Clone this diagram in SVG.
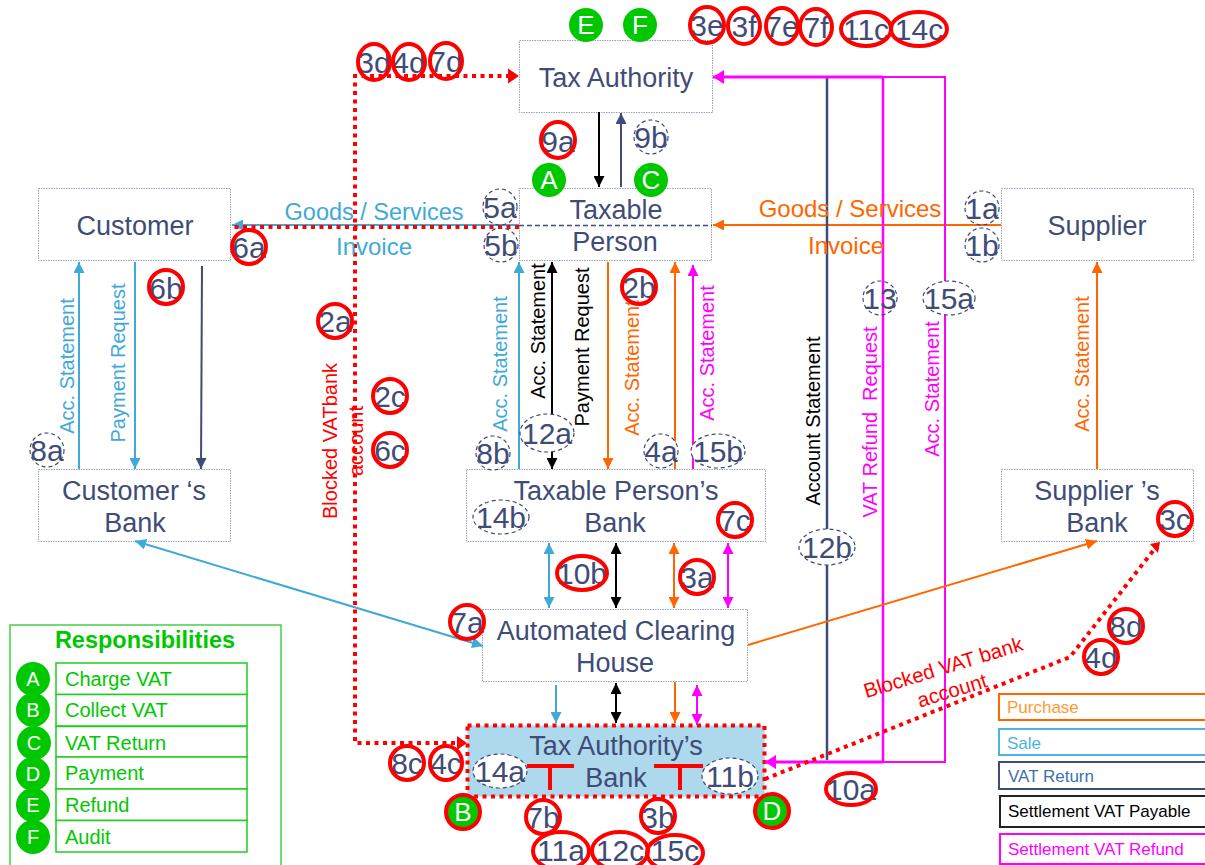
<svg xmlns="http://www.w3.org/2000/svg" width="1205" height="865" viewBox="0 0 1205 865">
<style>
text{font-family:"Liberation Sans",Arial,sans-serif;text-anchor:middle;dominant-baseline:central}
.box{fill:#fff;stroke:#9aa2bb;stroke-width:1;stroke-dasharray:1.5 1}
.nt{font-size:27px;fill:#3f4c77}
.bt{font-size:30px;fill:#3f4c77}
.r{fill:none;stroke:#f00;stroke-width:4}
.d{fill:#fff;stroke:#3f4c77;stroke-width:1.2;stroke-dasharray:4 3}
.o{fill:none}
.g{fill:#00c800}
.gt{font-size:26px;fill:#fff}
.l{fill:none;stroke-width:2}
.lb{stroke:#3fa9d8}.lo{stroke:#ff6600}.ln{stroke:#3f4c77}.lk{stroke:#000}.lm{stroke:#ff00ff}
.rd{fill:none;stroke:#f00;stroke-width:4;stroke-dasharray:4 4.500}
.tb{fill:#3fa9d8}.to{fill:#ff6600}.tk{fill:#000}.tm{fill:#ff00ff}.tr{fill:#f00}
.v{font-size:20px}
.h{font-size:24px}
.rb{fill:#fff;stroke:#22cc22;stroke-width:1.500}
.rt{font-size:20px;fill:#00c800;text-anchor:start}
.lg{fill:#fff;stroke-width:2}
.lt{font-size:17px;text-anchor:start}
</style>
<defs>
<marker id="ab" viewBox="0 0 10 10" refX="10" refY="5" markerWidth="11" markerHeight="11" markerUnits="userSpaceOnUse" orient="auto-start-reverse"><path d="M0,0L10,5L0,10z" fill="#3fa9d8"/></marker>
<marker id="ao" viewBox="0 0 10 10" refX="10" refY="5" markerWidth="11" markerHeight="11" markerUnits="userSpaceOnUse" orient="auto-start-reverse"><path d="M0,0L10,5L0,10z" fill="#ff6600"/></marker>
<marker id="an" viewBox="0 0 10 10" refX="10" refY="5" markerWidth="11" markerHeight="11" markerUnits="userSpaceOnUse" orient="auto-start-reverse"><path d="M0,0L10,5L0,10z" fill="#3f4c77"/></marker>
<marker id="ak" viewBox="0 0 10 10" refX="10" refY="5" markerWidth="11" markerHeight="11" markerUnits="userSpaceOnUse" orient="auto-start-reverse"><path d="M0,0L10,5L0,10z" fill="#000"/></marker>
<marker id="am" viewBox="0 0 10 10" refX="10" refY="5" markerWidth="11" markerHeight="11" markerUnits="userSpaceOnUse" orient="auto-start-reverse"><path d="M0,0L10,5L0,10z" fill="#ff00ff"/></marker>
</defs>

<g id="node-tax-authority"><rect class="box" x="519.5" y="40.5" width="193" height="72"/><text class="nt" x="616" y="78">Tax Authority</text></g>
<g id="node-customer"><rect class="box" x="38.5" y="188.5" width="192" height="72"/><text class="nt" x="135" y="226">Customer</text></g>
<g id="node-taxable-person"><rect class="box" x="519.5" y="188.5" width="192" height="72"/><text class="nt" x="616" y="210">Taxable</text><text class="nt" x="615" y="242">Person</text></g>
<g id="node-supplier"><rect class="box" x="1001.5" y="188.5" width="192" height="72"/><text class="nt" x="1097" y="226">Supplier</text></g>
<g id="node-customer-bank"><rect class="box" x="38.5" y="469.5" width="192" height="72"/><text class="nt" x="134" y="491">Customer ‘s</text><text class="nt" x="135" y="523">Bank</text></g>
<g id="node-tp-bank"><rect class="box" x="466.5" y="469.5" width="299" height="72"/><text class="nt" x="616" y="491">Taxable Person’s</text><text class="nt" x="615" y="523">Bank</text></g>
<g id="node-supplier-bank"><rect class="box" x="1001.5" y="469.5" width="192" height="72"/><text class="nt" x="1097" y="491">Supplier ’s</text><text class="nt" x="1097" y="523">Bank</text></g>
<g id="node-ach"><rect class="box" x="482.5" y="609.5" width="265" height="72"/><text class="nt" x="616" y="631">Automated Clearing</text><text class="nt" x="615" y="663">House</text></g>
<g id="node-ta-bank"><rect x="467.5" y="725.5" width="297" height="71" fill="#aed8ec" stroke="#f00" stroke-width="4" stroke-dasharray="4 4.500"/><text class="nt" x="616" y="746">Tax Authority’s</text><text class="nt" x="616" y="778">Bank</text>
<path d="M527,766H574M550,766V790M654,766H703M680,766V790" fill="none" stroke="#f00" stroke-width="4"/></g>

<g id="connectors">
<path class="l lk" d="M599,112V187" marker-end="url(#ak)"/>
<path class="l ln" d="M621,187V113" marker-end="url(#an)"/>
<path class="l lb" d="M519,225H232" marker-end="url(#ab)"/>
<path d="M519,225.5H712" fill="none" stroke="#3f4c77" stroke-width="1.300" stroke-dasharray="5 3"/>
<path class="l lo" d="M1001,225H713" marker-end="url(#ao)"/>
<path class="rd" d="M519,227H232"/>
<path class="rd" d="M510,76H355V743H457"/>
<path d="M508,68.500L519,76L508,83.500z" fill="#f00"/><path d="M457,736L467,743L457,750z" fill="#f00"/>
<path class="l lb" d="M79,469V262" marker-end="url(#ab)"/>
<path class="l lb" d="M135,262V469" marker-end="url(#ab)"/>
<path class="l ln" d="M202,266L201,469" marker-end="url(#an)"/>
<path class="l lb" d="M519,469V262" marker-end="url(#ab)"/>
<path class="l lk" d="M552,262V469" marker-start="url(#ak)" marker-end="url(#ak)"/>
<path class="l lo" d="M608,262V469" marker-end="url(#ao)"/>
<path class="l lo" d="M675,469V262" marker-end="url(#ao)"/>
<path class="l lm" d="M693,469V265" marker-end="url(#am)"/>
<path class="l lo" d="M1097,469V262" marker-end="url(#ao)"/>
<path class="l lb" d="M549,543V608" marker-start="url(#ab)" marker-end="url(#ab)"/>
<path class="l lk" d="M616,543V608" marker-start="url(#ak)" marker-end="url(#ak)"/>
<path class="l lo" d="M674,543V608" marker-start="url(#ao)" marker-end="url(#ao)"/>
<path class="l lm" d="M728,543V608" marker-start="url(#am)" marker-end="url(#am)"/>
<path class="l lb" d="M556,685V723" marker-end="url(#ab)"/>
<path class="l lk" d="M616,683V723" marker-start="url(#ak)" marker-end="url(#ak)"/>
<path class="l lo" d="M675,682V723" marker-end="url(#ao)"/>
<path class="l lm" d="M697,685V725" marker-start="url(#am)" marker-end="url(#am)"/>
<path class="l lb" d="M135,541L483,646" marker-start="url(#ab)" marker-end="url(#ab)"/>
<path d="M827,77V760" fill="none" stroke="#3f4c77" stroke-width="2.500"/>
<path class="l lm" d="M883,77V762" style="stroke-width:2.500"/>
<path class="l lm" d="M713,77H945V762H765"/>
<path d="M713,77H883M765,762H883" fill="none" stroke="#ff00ff" stroke-width="3"/>
<path d="M724,70L713,77L724,84zM776,755L765,762L776,769z" fill="#ff00ff"/>
<path class="l lo" d="M748,645L1097,541" marker-end="url(#ao)"/>
<path class="rd" d="M765,779L1070,657L1153,551"/>
<path d="M1150,544L1160,542L1158,553z" fill="#f00" transform="rotate(0)"/>
</g>

<g id="labels">
<text class="tb" style="font-size:23.500px" x="374" y="212">Goods / Services</text>
<text class="h tb" x="374" y="246">Invoice</text>
<text class="h to" x="850" y="208">Goods / Services</text>
<text class="h to" x="846" y="245">Invoice</text>
<text class="v tb" transform="translate(67,366) rotate(-90)">Acc. Statement</text>
<text class="v tb" transform="translate(118,363) rotate(-90)">Payment Request</text>
<text class="v tb" transform="translate(500,364) rotate(-90)">Acc. Statement</text>
<text class="v tk" transform="translate(538,331) rotate(-90)">Acc. Statement</text>
<text class="v tk" transform="translate(582,347) rotate(-90)">Payment Request</text>
<text class="v to" transform="translate(632,368) rotate(-90)">Acc. Statement</text>
<text class="v tm" transform="translate(707,353) rotate(-90)">Acc. Statement</text>
<text class="v to" transform="translate(1082,364) rotate(-90)">Acc. Statement</text>
<text class="v tk" transform="translate(813,421) rotate(-90)">Account Statement</text>
<text class="v tm" transform="translate(870,422) rotate(-90)" xml:space="preserve">VAT Refund  Request</text>
<text class="v tm" transform="translate(932,389) rotate(-90)">Acc. Statement</text>
<text class="v tr" transform="translate(330,441) rotate(-90)">Blocked VATbank</text>
<text class="v tr" transform="translate(356,441) rotate(-90)">account</text>
<text class="tr" style="font-size:20.500px" transform="translate(943,667) rotate(-17)">Blocked VAT bank</text>
<text class="tr" style="font-size:20.500px" transform="translate(952,690) rotate(-17)">account</text>
</g>

<g id="badge-9b"><ellipse class="d" cx="651" cy="137" rx="17" ry="17"/><text class="bt" x="651" y="137">9b</text></g>
<g id="badge-5a"><ellipse class="d o" cx="500" cy="207" rx="17" ry="18"/><text class="bt" x="500" y="207">5a</text></g>
<g id="badge-5b"><ellipse class="d o" cx="501" cy="245" rx="17" ry="17"/><text class="bt" x="501" y="245">5b</text></g>
<g id="badge-1a"><ellipse class="d o" cx="982" cy="208" rx="17" ry="17"/><text class="bt" x="982" y="208">1a</text></g>
<g id="badge-1b"><ellipse class="d o" cx="982" cy="245" rx="17" ry="17"/><text class="bt" x="982" y="245">1b</text></g>
<g id="badge-13"><ellipse class="d o" cx="880" cy="298" rx="17" ry="17"/><text class="bt" x="880" y="298">13</text></g>
<g id="badge-15a"><ellipse class="d" cx="949" cy="298" rx="26" ry="17"/><text class="bt" x="949" y="298">15a</text></g>
<g id="badge-8a"><ellipse class="d" cx="47" cy="450" rx="17" ry="17"/><text class="bt" x="47" y="450">8a</text></g>
<g id="badge-8b"><ellipse class="d" cx="493" cy="453" rx="17" ry="17"/><text class="bt" x="493" y="453">8b</text></g>
<g id="badge-12a"><ellipse class="d" cx="547" cy="433" rx="27" ry="19"/><text class="bt" x="547" y="433">12a</text></g>
<g id="badge-4a"><ellipse class="d" cx="661" cy="451" rx="17" ry="17"/><text class="bt" x="661" y="451">4a</text></g>
<g id="badge-15b"><ellipse class="d" cx="718" cy="451" rx="27" ry="17"/><text class="bt" x="718" y="451">15b</text></g>
<g id="badge-14b"><ellipse class="d" cx="501" cy="517" rx="28" ry="17"/><text class="bt" x="501" y="517">14b</text></g>
<g id="badge-14a"><ellipse class="d" cx="500" cy="771" rx="27" ry="17"/><text class="bt" x="500" y="771">14a</text></g>
<g id="badge-11b"><ellipse class="d" cx="730" cy="776" rx="28" ry="18"/><text class="bt" x="730" y="776">11b</text></g>
<g id="badge-12b"><ellipse class="d" cx="827" cy="547" rx="28" ry="18"/><text class="bt" x="827" y="547">12b</text></g>

<g id="badge-3d"><text class="bt" x="374" y="62">3d</text><ellipse class="r" cx="374" cy="62" rx="16" ry="18"/></g>
<g id="badge-4d"><text class="bt" x="409" y="62">4d</text><ellipse class="r" cx="409" cy="62" rx="16" ry="18"/></g>
<g id="badge-7d"><text class="bt" x="446" y="61">7d</text><ellipse class="r" cx="446" cy="61" rx="16" ry="18"/></g>
<g id="badge-3e"><text class="bt" x="707" y="25">3e</text><ellipse class="r" cx="707" cy="25" rx="17" ry="18"/></g>
<g id="badge-3f"><text class="bt" x="744" y="26">3f</text><ellipse class="r" cx="744" cy="26" rx="16" ry="18"/></g>
<g id="badge-7e"><text class="bt" x="782" y="26">7e</text><ellipse class="r" cx="782" cy="26" rx="16" ry="18"/></g>
<g id="badge-7f"><text class="bt" x="816" y="27">7f</text><ellipse class="r" cx="816" cy="27" rx="16" ry="18"/></g>
<g id="badge-11c"><text class="bt" x="866" y="29">11c</text><ellipse class="r" cx="866" cy="29" rx="25" ry="17"/></g>
<g id="badge-14c"><text class="bt" x="919" y="29">14c</text><ellipse class="r" cx="919" cy="29" rx="28" ry="17"/></g>
<g id="badge-9a"><text class="bt" x="558" y="141">9a</text><ellipse class="r" cx="558" cy="140" rx="17" ry="18"/></g>
<g id="badge-6a"><text class="bt" x="249" y="247">6a</text><ellipse class="r" cx="249" cy="247" rx="17" ry="17"/></g>
<g id="badge-6b"><text class="bt" x="166" y="288">6b</text><ellipse class="r" cx="166" cy="287" rx="17" ry="17"/></g>
<g id="badge-2a"><text class="bt" x="335" y="321">2a</text><ellipse class="r" cx="335" cy="321" rx="17" ry="17"/></g>
<g id="badge-2c"><text class="bt" x="390" y="396">2c</text><ellipse class="r" cx="390" cy="396" rx="17" ry="17"/></g>
<g id="badge-6c"><text class="bt" x="390" y="450">6c</text><ellipse class="r" cx="390" cy="450" rx="17" ry="17"/></g>
<g id="badge-2b"><text class="bt" x="639" y="287">2b</text><ellipse class="r" cx="639" cy="287" rx="17" ry="17"/></g>
<g id="badge-7c"><text class="bt" x="735" y="520">7c</text><ellipse class="r" cx="735" cy="520" rx="17" ry="17"/></g>
<g id="badge-3c"><text class="bt" x="1175" y="519">3c</text><ellipse class="r" cx="1175" cy="519" rx="17" ry="17"/></g>
<g id="badge-7a"><text class="bt" x="467" y="622">7a</text><ellipse class="r" cx="467" cy="622" rx="17" ry="17"/></g>
<g id="badge-3a"><text class="bt" x="697" y="577">3a</text><ellipse class="r" cx="697" cy="577" rx="17" ry="17"/></g>
<g id="badge-10b"><text class="bt" x="582" y="573">10b</text><ellipse class="r" cx="582" cy="573" rx="25" ry="17"/></g>
<g id="badge-8d"><text class="bt" x="1126" y="626">8d</text><ellipse class="r" cx="1126" cy="626" rx="17" ry="17"/></g>
<g id="badge-4d2"><text class="bt" x="1101" y="657">4d</text><ellipse class="r" cx="1101" cy="657" rx="17" ry="17"/></g>
<g id="badge-8c"><text class="bt" x="407" y="763">8c</text><ellipse class="r" cx="407" cy="763" rx="17" ry="17"/></g>
<g id="badge-4c"><text class="bt" x="446" y="763">4c</text><ellipse class="r" cx="446" cy="763" rx="16" ry="17"/></g>
<g id="badge-10a"><text class="bt" x="851" y="789">10a</text><ellipse class="r" cx="851" cy="789" rx="25" ry="16"/></g>
<g id="badge-7b"><text class="bt" x="543" y="817">7b</text><ellipse class="r" cx="543" cy="817" rx="17" ry="17"/></g>
<g id="badge-3b"><text class="bt" x="658" y="817">3b</text><ellipse class="r" cx="658" cy="816" rx="17" ry="17"/></g>
<g id="badge-11a"><text class="bt" x="561" y="850">11a</text><ellipse class="r" cx="561" cy="851" rx="28" ry="19"/></g>
<g id="badge-12c"><text class="bt" x="620" y="850">12c</text><ellipse class="r" cx="620" cy="851" rx="28" ry="19"/></g>
<g id="badge-15c"><text class="bt" x="675" y="850">15c</text><ellipse class="r" cx="675" cy="853" rx="28" ry="18"/></g>

<g id="resp-E"><circle class="g" cx="586" cy="25" r="17"/><text class="gt" x="586" y="25">E</text></g>
<g id="resp-F"><circle class="g" cx="640" cy="25" r="17"/><text class="gt" x="640" y="25">F</text></g>
<g id="resp-A"><circle class="g" cx="549" cy="180" r="17"/><text class="gt" x="549" y="180">A</text></g>
<g id="resp-C"><circle class="g" cx="651" cy="180" r="17"/><text class="gt" x="651" y="180">C</text></g>
<g id="resp-B"><circle class="g" cx="463" cy="812" r="17" stroke="#f00" stroke-width="4"/><text class="gt" x="463" y="812">B</text></g>
<g id="resp-D"><circle class="g" cx="772" cy="811" r="17" stroke="#f00" stroke-width="4"/><text class="gt" x="772" y="811">D</text></g>

<g id="responsibilities">
<rect x="10" y="625" width="271" height="250" fill="#fff" stroke="#44d044" stroke-width="1.500"/>
<text x="145" y="640" font-size="23.500" font-weight="bold" fill="#00c800">Responsibilities</text>
<rect class="rb" x="56" y="663" width="191" height="31.500"/><text class="rt" x="65" y="679">Charge VAT</text>
<rect class="rb" x="56" y="694.500" width="191" height="31.500"/><text class="rt" x="65" y="710">Collect VAT</text>
<rect class="rb" x="56" y="726.500" width="191" height="30.500"/><text class="rt" x="65" y="743">VAT Return</text>
<rect class="rb" x="56" y="757" width="191" height="32"/><text class="rt" x="65" y="773">Payment</text>
<rect class="rb" x="56" y="789" width="191" height="31.500"/><text class="rt" x="65" y="805">Refund</text>
<rect class="rb" x="56" y="820.500" width="191" height="31.500"/><text class="rt" x="65" y="837">Audit</text>
<circle class="g" cx="33" cy="679" r="17"/><text class="gt" style="font-size:20px" x="33" y="679">A</text>
<circle class="g" cx="33" cy="710" r="17"/><text class="gt" style="font-size:20px" x="33" y="710">B</text>
<circle class="g" cx="34" cy="743" r="17"/><text class="gt" style="font-size:20px" x="34" y="743">C</text>
<circle class="g" cx="33" cy="774" r="17"/><text class="gt" style="font-size:20px" x="33" y="774">D</text>
<circle class="g" cx="33" cy="805" r="17"/><text class="gt" style="font-size:20px" x="33" y="805">E</text>
<circle class="g" cx="33" cy="837" r="17"/><text class="gt" style="font-size:20px" x="33" y="837">F</text>
</g>

<g id="legend">
<rect class="lg" x="999" y="694" width="230" height="26" stroke="#ff6600"/><text class="lt" x="1007" y="707" fill="#ff9933">Purchase</text>
<rect class="lg" x="999" y="729" width="230" height="26" stroke="#4db3e0"/><text class="lt" x="1007" y="743" fill="#4db3e0">Sale</text>
<rect class="lg" x="999" y="762" width="230" height="27" stroke="#3f4c77"/><text class="lt" x="1008" y="776" fill="#3a72b0">VAT Return</text>
<rect class="lg" x="1000" y="796" width="230" height="31" stroke="#222"/><text class="lt" x="1008" y="811" fill="#000">Settlement VAT Payable</text>
<rect class="lg" x="1000" y="834" width="230" height="30" stroke="#ff00ff"/><text class="lt" x="1008" y="849" fill="#ff00ff">Settlement VAT Refund</text>
</g>
</svg>
